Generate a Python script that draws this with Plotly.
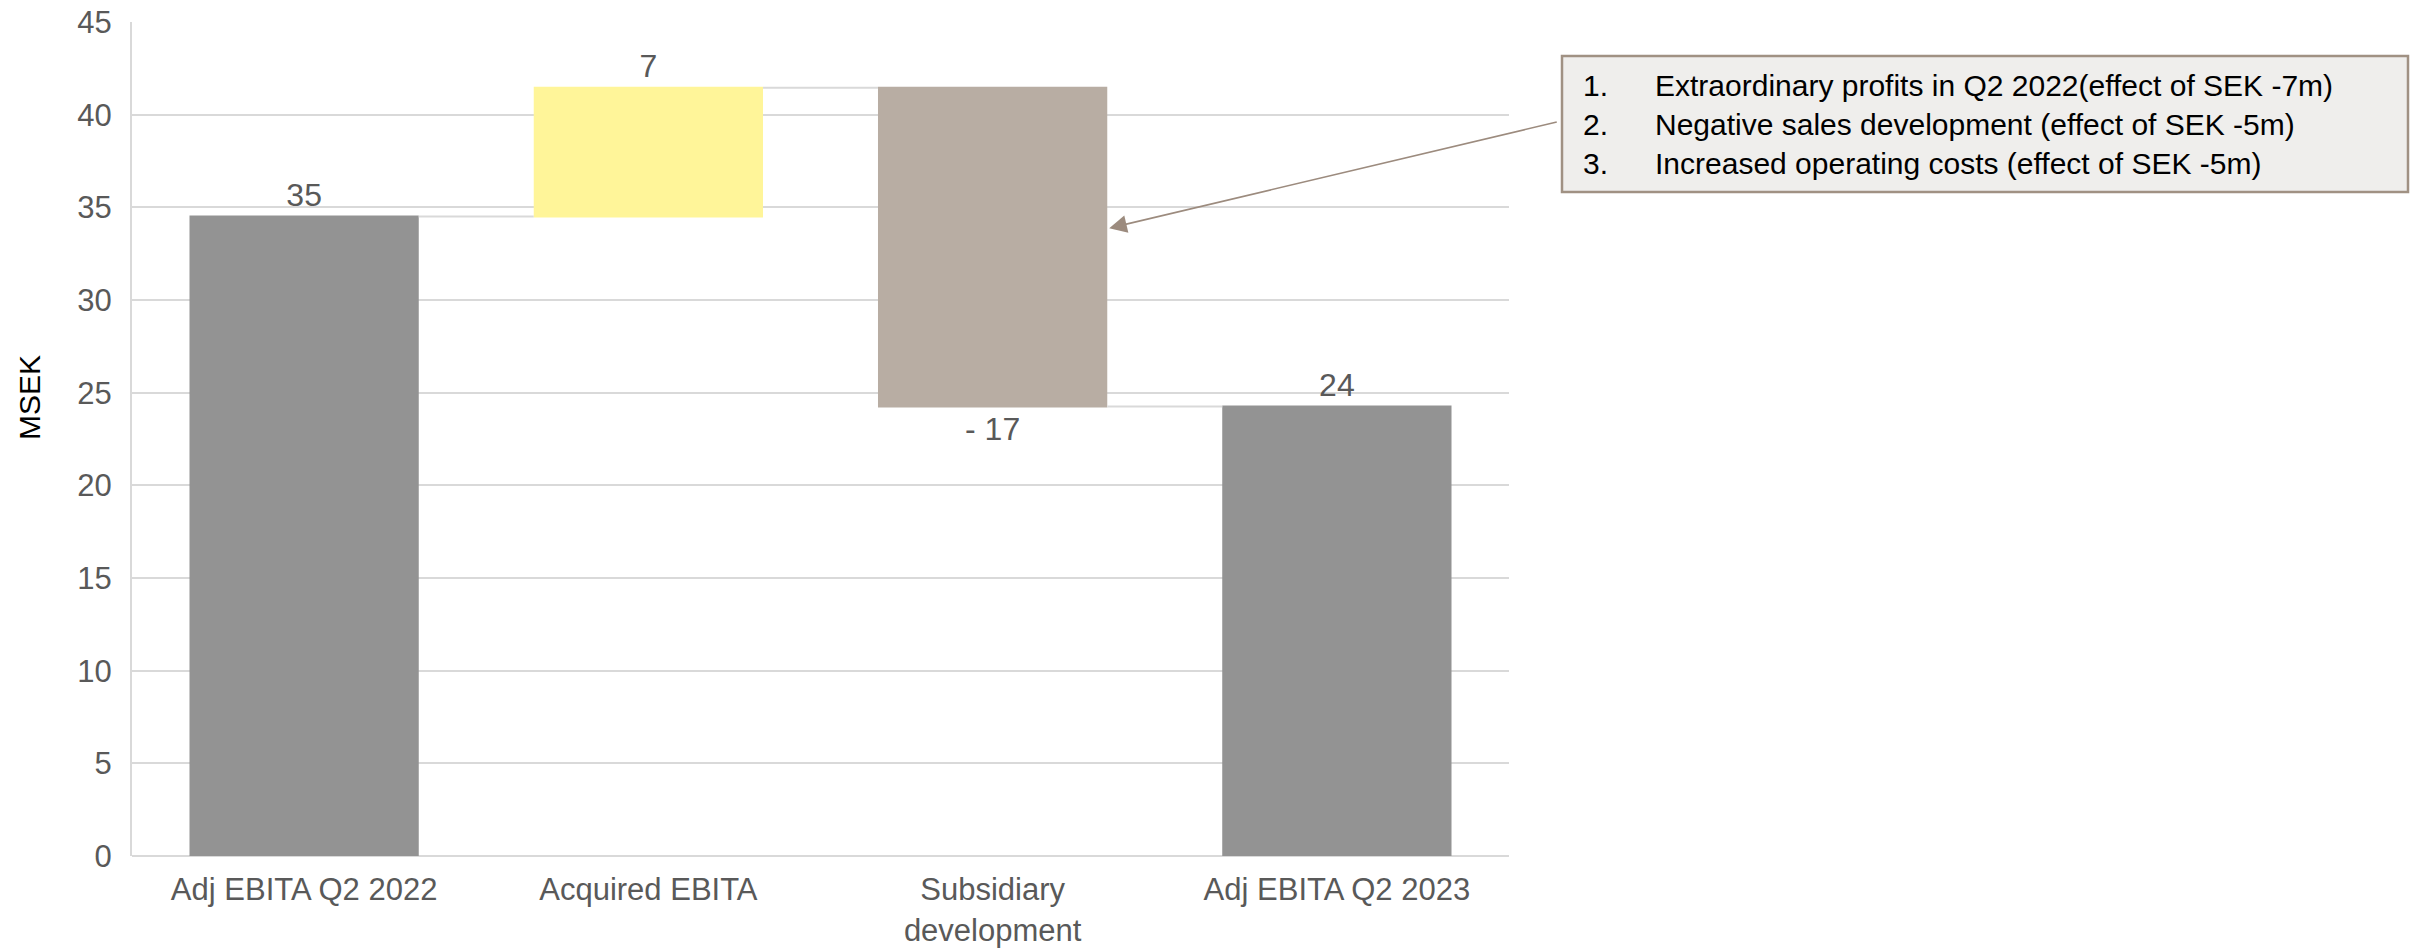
import plotly.graph_objects as go

# ---- data ----
categories = ["Adj EBITA Q2 2022", "Acquired EBITA", "Subsidiary<br>development", "Adj EBITA Q2 2023"]
measures = ["absolute", "relative", "relative", "total"]
values = [34.5, 6.95, -17.2, 0]
value_labels = ["35", "7", "- 17", "24"]
note_numbers = ["1.", "2.", "3."]
note_texts = [
    "Extraordinary profits in Q2 2022(effect of SEK -7m)",
    "Negative sales development (effect of SEK -5m)",
    "Increased operating costs (effect of SEK -5m)",
]
y_ticks = [0, 5, 10, 15, 20, 25, 30, 35, 40, 45]

FONT = "Arial, 'Liberation Sans', sans-serif"
GREY_TXT = "#595959"
GRID = "#D9D9D9"

W, H = 2410, 950
L, R, T, B = 132, 901, 22, 94
PW, PH = W - L - R, H - T - B


def px_x(p):
    return (p - L) / PW


def px_y(p):
    return (H - B - p) / PH


fig = go.Figure(go.Waterfall(
    x=categories,
    measure=measures,
    y=values,
    text=value_labels,
    textposition="outside",
    textfont=dict(family=FONT, size=32, color=GREY_TXT),
    cliponaxis=False,
    increasing=dict(marker=dict(color="#FFF599")),
    decreasing=dict(marker=dict(color="#B8ADA3")),
    totals=dict(marker=dict(color="#939393")),
    connector=dict(line=dict(color=GRID, width=2), mode="between"),
    hoverinfo="skip",
))

GAP = 0.334
fig.update_layout(
    width=W, height=H, autosize=False,
    margin=dict(l=L, r=R, t=T, b=B, pad=0, autoexpand=False),
    plot_bgcolor="white", paper_bgcolor="white",
    showlegend=False,
    waterfallgap=GAP,
    font=dict(family=FONT, size=32, color=GREY_TXT),
    xaxis=dict(
        automargin=False,
        range=[-0.5, len(categories) - 0.5],
        showgrid=False, showline=False, zeroline=False,
        ticks="outside", ticklen=6, tickcolor="rgba(0,0,0,0)",
        tickfont=dict(family=FONT, size=31, color=GREY_TXT),
    ),
    yaxis=dict(
        automargin=False,
        range=[0, 45], tickvals=y_ticks,
        showgrid=True, gridcolor=GRID, gridwidth=2,
        zeroline=True, zerolinecolor=GRID, zerolinewidth=2,
        showline=True, linecolor=GRID, linewidth=2,
        ticks="outside", ticklen=12, tickcolor="rgba(0,0,0,0)",
        tickfont=dict(family=FONT, size=31, color=GREY_TXT),
    ),
)

# y-axis title
fig.add_annotation(
    text="MSEK", xref="paper", yref="paper",
    x=px_x(29), y=px_y(397), showarrow=False, textangle=-90,
    font=dict(family=FONT, size=30, color="black"),
    xanchor="center", yanchor="middle",
)

# note box
fig.add_shape(
    type="rect", xref="paper", yref="paper",
    x0=px_x(1562), x1=px_x(2408), y0=px_y(192), y1=px_y(56),
    fillcolor="#EFEEEC", line=dict(color="#A09183", width=2.5),
    layer="above",
)
fig.add_annotation(
    text="<br>".join(note_numbers), xref="paper", yref="paper",
    x=px_x(1581), y=px_y(124), showarrow=False, align="left",
    xanchor="left", yanchor="middle",
    font=dict(family=FONT, size=30, color="black"),
)
fig.add_annotation(
    text="<br>".join(note_texts), xref="paper", yref="paper",
    x=px_x(1653), y=px_y(124), showarrow=False, align="left",
    xanchor="left", yanchor="middle",
    font=dict(family=FONT, size=30, color="black"),
)

# arrow from box to subsidiary bar
fig.add_annotation(
    text="", xref="x", yref="y",
    x=2 + (1 - GAP) / 2, y=33.85,
    ax=1562 - 1111, ay=123 - 230, axref="pixel", ayref="pixel",
    showarrow=True, arrowhead=2, arrowsize=2.2, arrowwidth=1.6,
    arrowcolor="#9C8B7E", standoff=2,
)

fig.write_html(
    "out.html",
    config={"displayModeBar": False},
    post_script="document.body.style.margin='0';document.body.style.overflow='hidden';",
)
